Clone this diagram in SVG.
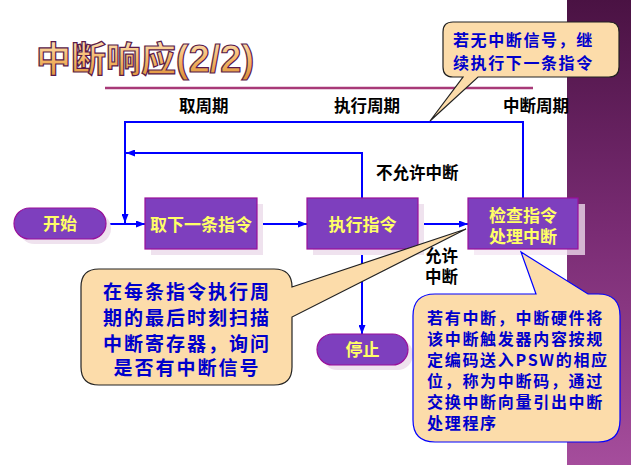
<svg xmlns="http://www.w3.org/2000/svg" width="631" height="465" viewBox="0 0 631 465">
<style>
.cjk{font-family:"Noto Sans CJK SC","Liberation Sans",sans-serif;font-weight:bold}
.box{fill:#7e3fbe;stroke:#9a0f9a;stroke-width:1.2}
.shadow{fill:#efe2ee}
.ntext{fill:#ffff66;font-size:17px;text-anchor:middle}
.label{fill:#000;font-size:16.5px}
.conn{fill:none;stroke:#0000ff;stroke-width:2}
.callout{fill:#fcdcaa;stroke:#222;stroke-width:1.2}
.ctext{fill:#0000cc}
</style>
<defs>
<linearGradient id="band" x1="0" y1="0" x2="0" y2="1">
<stop offset="0" stop-color="#4a1243"/>
<stop offset="0.5" stop-color="#7a2c74"/>
<stop offset="1" stop-color="#a54d9c"/>
</linearGradient>
<linearGradient id="title" x1="0" y1="0" x2="0" y2="1">
<stop offset="0" stop-color="#fff2d8"/>
<stop offset="0.55" stop-color="#f5b868"/>
<stop offset="1" stop-color="#d98a30"/>
</linearGradient>
<marker id="arr" markerWidth="9" markerHeight="7" refX="9" refY="3.5" orient="auto" markerUnits="userSpaceOnUse">
<path d="M0,0 L9,3.5 L0,7 z" fill="#0000ff"/>
</marker>
</defs>
<rect x="0" y="0" width="631" height="465" fill="#ffffff"/>
<rect x="567" y="0" width="64" height="465" fill="url(#band)"/>

<g id="title-block">
<text class="cjk" x="36" y="72" font-size="35" fill="url(#title)" stroke="#5a1a4a" stroke-width="1.2">中断响应<tspan font-family="Liberation Sans" font-size="38">(2/2)</tspan></text>
<line x1="105" y1="88" x2="533" y2="88" stroke="#a83a78" stroke-width="2.6"/>
</g>

<g id="labels" class="cjk label">
<text x="179" y="112">取周期</text>
<text x="334" y="112">执行周期</text>
<text x="503" y="112">中断周期</text>
<text x="376" y="178.5">不允许中断</text>
<text x="425" y="261.5">允许</text>
<text x="425" y="282.5">中断</text>
</g>

<g id="connectors">
<line class="conn" x1="106" y1="224" x2="145" y2="224" marker-end="url(#arr)"/>
<line class="conn" x1="257" y1="224" x2="307" y2="224" marker-end="url(#arr)"/>
<line class="conn" x1="418" y1="224" x2="468" y2="224" marker-end="url(#arr)"/>
<line class="conn" x1="362" y1="249" x2="362" y2="334" marker-end="url(#arr)"/>
<polyline class="conn" points="362,198 362,153 126,153" marker-end="url(#arr)"/>
<polyline class="conn" points="523,198 523,122 125,122 125,223" marker-end="url(#arr)"/>
</g>

<g id="start">
<rect class="shadow" x="19" y="213" width="92" height="31" rx="15.5"/>
<rect class="box" x="14" y="208" width="92" height="31" rx="15.5"/>
<text class="cjk ntext" x="60" y="230" font-size="16">开始</text>
</g>
<g id="fetch">
<rect class="shadow" x="151" y="204" width="112" height="51"/>
<rect class="box" x="145" y="198" width="112" height="51"/>
<text class="cjk ntext" x="201" y="230.5">取下一条指令</text>
</g>
<g id="execute">
<rect class="shadow" x="313" y="204" width="111" height="51"/>
<rect class="box" x="307" y="198" width="111" height="51"/>
<text class="cjk ntext" x="362.5" y="230.5">执行指令</text>
</g>
<g id="check">
<rect x="474" y="204" width="111" height="51" fill="#f3e4f1" opacity="0.75"/>
<rect class="box" x="468" y="198" width="110" height="51"/>
<text class="cjk ntext" x="523" y="221.5">检查指令</text>
<text class="cjk ntext" x="523" y="242.5">处理中断</text>
</g>
<g id="stop">
<rect class="shadow" x="322" y="339" width="91" height="31" rx="15.5"/>
<rect class="box" x="317" y="334" width="91" height="31" rx="15.5"/>
<text class="cjk ntext" x="362.5" y="356">停止</text>
</g>

<g id="callout-top">
<path class="callout" d="M453,22 H609 Q619,22 619,32 V67 Q619,77 609,77 H478 L430,121 L463,77 H453 Q443,77 443,67 V32 Q443,22 453,22 Z"/>
<g class="cjk ctext" font-size="16" letter-spacing="1.6">
<text x="453" y="46">若无中断信号，继</text>
<text x="453" y="69">续执行下一条指令</text>
</g>
</g>

<g id="callout-left">
<path class="callout" d="M99,269 H274 Q292,269 292,287 L466,229 L292,317 V367 Q292,385 274,385 H99 Q81,385 81,367 V287 Q81,269 99,269 Z"/>
<g class="cjk ctext" font-size="19" letter-spacing="2" text-anchor="middle">
<text x="187" y="299">在每条指令执行周</text>
<text x="187" y="325">期的最后时刻扫描</text>
<text x="187" y="351">中断寄存器，询问</text>
<text x="187" y="375">是否有中断信号</text>
</g>
</g>

<g id="callout-right">
<path class="callout" style="stroke:#0000ff" d="M435,294 H536 L521,252 L588,294 H598 Q620,294 620,316 V420 Q620,442 598,442 H435 Q413,442 413,420 V316 Q413,294 435,294 Z"/>
<g class="cjk ctext" font-size="16" letter-spacing="1.7">
<text x="427" y="324">若有中断，中断硬件将</text>
<text x="427" y="345">该中断触发器内容按规</text>
<text x="427" y="366">定编码送入PSW的相应</text>
<text x="427" y="387">位，称为中断码，通过</text>
<text x="427" y="408">交换中断向量引出中断</text>
<text x="427" y="429">处理程序</text>
</g>
</g>
</svg>
